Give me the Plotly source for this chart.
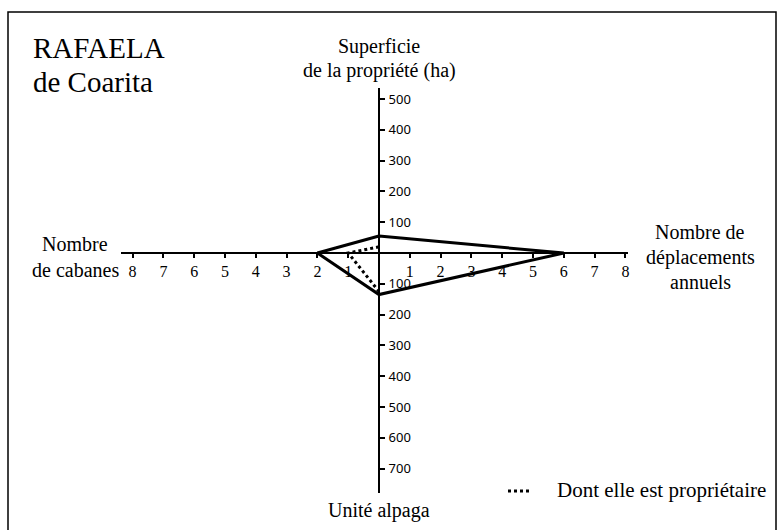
import plotly.graph_objects as go

# ---- data ----
axis_names = ["Superficie de la propriété (ha)", "Nombre de déplacements annuels",
              "Unité alpaga", "Nombre de cabanes"]
# order: superficie (ha), déplacements, unité alpaga, cabanes
total_values = [55, 6, 135, 2]
owned_values = [20, None, 125, 1]     # dont elle est propriétaire
h_tick_values = [1, 2, 3, 4, 5, 6, 7, 8]
top_tick_values = [100, 200, 300, 400, 500]
bottom_tick_values = [100, 200, 300, 400, 500, 600, 700]

W, H = 777, 530
CX, CY = 379, 253          # pixel position of the cross
S = 30.8                   # pixels per unit (1 unit = 1 count = 100 ha / alpaga)

def px_x(p):
    return p / W

def px_y(p):
    return 1 - p / H

# total polygon: top -> right -> bottom -> left -> top
tx = [0, total_values[1], 0, -total_values[3], 0]
ty = [total_values[0] / 100, 0, -total_values[2] / 100, 0, total_values[0] / 100]
# owned polyline: top -> left -> bottom
ox = [0, -owned_values[3], 0]
oy = [owned_values[0] / 100, 0, -owned_values[2] / 100]

fig = go.Figure()
fig.add_trace(go.Scatter(x=tx, y=ty, mode="lines",
                         line=dict(color="black", width=3), showlegend=False,
                         cliponaxis=False))
fig.add_trace(go.Scatter(x=ox, y=oy, mode="lines",
                         line=dict(color="black", width=3, dash="dot"), showlegend=False,
                         cliponaxis=False))

# axis geometry (pixels)
x_left_px, x_right_px = 121, 628
y_top_px, y_bot_px = 88, 493
xr = [(x_left_px - CX) / S, (x_right_px - CX) / S]
yr = [-(y_bot_px - CY) / S, (CY - y_top_px) / S]

serif = "Liberation Serif, Times New Roman, serif"

fig.update_layout(
    width=W, height=H,
    margin=dict(l=0, r=0, t=0, b=0),
    paper_bgcolor="white", plot_bgcolor="rgba(0,0,0,0)",
    xaxis=dict(domain=[px_x(x_left_px), px_x(x_right_px)], range=xr,
               anchor="free", position=px_y(CY), side="bottom",
               showline=True, linecolor="black", linewidth=2,
               ticks="outside", ticklen=4, tickwidth=1.5, tickcolor="black",
               tickvals=[-v for v in h_tick_values] + h_tick_values,
               ticktext=[str(v) for v in h_tick_values] * 2,
               tickfont=dict(family=serif, size=16, color="black"),
               ticklabelstandoff=0,
               showgrid=False, zeroline=False, fixedrange=True),
    yaxis=dict(domain=[px_y(y_bot_px), px_y(y_top_px)], range=yr,
               anchor="free", position=px_x(CX), side="right",
               showline=True, linecolor="black", linewidth=2,
               ticks="outside", ticklen=5, tickwidth=1.5, tickcolor="black",
               tickvals=[v / 100 for v in top_tick_values] + [-v / 100 for v in bottom_tick_values],
               ticktext=[str(v) for v in top_tick_values] + [str(v) for v in bottom_tick_values],
               tickfont=dict(family="Noto Sans", size=13, color="black"),
               ticklabelstandoff=1,
               showgrid=False, zeroline=False, fixedrange=True),
    showlegend=False,
)

def ann(text, x, y, size=20, xanchor="center"):
    fig.add_annotation(text=text, x=px_x(x), y=px_y(y), xref="paper", yref="paper",
                       xanchor=xanchor, yanchor="middle", showarrow=False,
                       font=dict(family=serif, size=size, color="black"))

ann("RAFAELA", 31, 48, size=29, xanchor="left")
ann("de Coarita", 31, 82, size=29, xanchor="left")
ann("Superficie", CX, 47)
ann("de la propriété (ha)", CX, 71)
ann("Nombre", 75, 244)
ann("de cabanes", 75, 270)
ann("Nombre de", 700, 232)
ann("déplacements", 700, 257)
ann("annuels", 700, 282)
ann("Unité alpaga", CX, 510)
ann("Dont elle est propriétaire", 768, 490, size=21, xanchor="right")

# legend sample line
fig.add_shape(type="line", xref="paper", yref="paper",
              x0=px_x(508), x1=px_x(531), y0=px_y(491), y1=px_y(491),
              line=dict(color="black", width=3, dash="dot"))
# frame
fig.add_shape(type="rect", xref="paper", yref="paper",
              x0=px_x(8), x1=px_x(776), y0=px_y(12), y1=px_y(535),
              line=dict(color="black", width=1.5))

fig.write_html("out.html", config={"displayModeBar": False},
               post_script="document.body.style.margin='0px';document.body.style.overflow='hidden';")
